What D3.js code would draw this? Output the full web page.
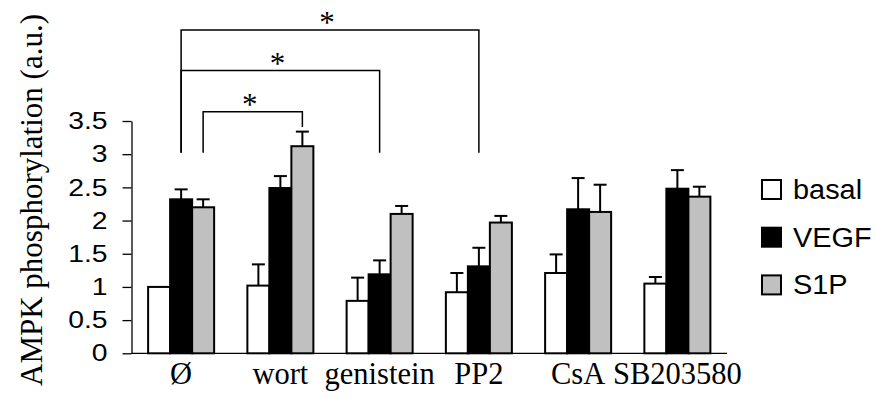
<!DOCTYPE html>
<html>
<head>
<meta charset="utf-8">
<script src="https://cdn.jsdelivr.net/npm/d3@7"></script>
<style>
  html, body { margin: 0; padding: 0; background: #fff; }
  svg { display: block; }
</style>
</head>
<body>
<svg id="chart" width="876" height="399"></svg>
<script>
// Treatments along the x axis
const categories = ["Ø", "wort", "genistein", "PP2", "CsA", "SB203580"];
const seriesNames = ["basal", "VEGF", "S1P"];

// Mean AMPK phosphorylation (a.u.) and upper error (SEM) per treatment
const basal    = [1.00, 1.02, 0.79, 0.92, 1.21, 1.05];
const basalErr = [0.00, 0.32, 0.35, 0.29, 0.28, 0.10];
const vegf     = [2.32, 2.49, 1.19, 1.31, 2.17, 2.48];
const vegfErr  = [0.15, 0.18, 0.21, 0.28, 0.47, 0.28];
const s1p      = [2.20, 3.12, 2.10, 1.97, 2.13, 2.36];
const s1pErr   = [0.12, 0.22, 0.12, 0.10, 0.41, 0.15];

const yTicks = [0, 0.5, 1, 1.5, 2, 2.5, 3, 3.5];

// Significance brackets: [from category, from series, to category, to series, bar level, left foot, right foot]
const brackets = [
  ["Ø", "VEGF", "PP2", "VEGF", 4.87, 3.02, 3.02],
  ["Ø", "VEGF", "genistein", "VEGF", 4.26, 3.02, 3.02],
  ["Ø", "S1P", "wort", "S1P", 3.64, 3.02, 3.41]
];

const fills = { basal: "#ffffff", VEGF: "#000000", S1P: "#c0c0c0" };
const values = { basal: basal, VEGF: vegf, S1P: s1p };
const errors = { basal: basalErr, VEGF: vegfErr, S1P: s1pErr };

const svg = d3.select("#chart");

const x0 = d3.scaleBand()
  .domain(categories)
  .range([131.5, 727])
  .paddingInner(0.335)
  .paddingOuter(0.1675);

const x1 = d3.scaleBand()
  .domain(seriesNames)
  .range([0, x0.bandwidth()])
  .padding(0);

const y = d3.scaleLinear().domain([0, 3.5]).range([353.3, 121]);

const serif = "'Liberation Serif', 'Times New Roman', serif";
const sans = "'Liberation Sans', Arial, sans-serif";
// sans labels are set slightly wide
const tickStretch = 1.18;
const legendStretch = 1.07;

// Y axis
const yAxis = d3.axisLeft(y)
  .tickValues(yTicks)
  .tickFormat(d3.format("~g"))
  .tickSize(9)
  .tickSizeOuter(0)
  .tickPadding(15);

const gy = svg.append("g")
  .attr("transform", "translate(131.5,0)")
  .call(yAxis);
gy.select(".domain").attr("stroke", "#000").attr("stroke-width", 1.3);
gy.selectAll(".tick line").attr("stroke", "#000").attr("stroke-width", 1.3);
gy.selectAll(".tick text")
  .attr("fill", "#000")
  .style("font-family", sans)
  .style("font-size", "24px")
  .each(function () {
    const t = d3.select(this);
    const tx = +t.attr("x");
    t.attr("x", 0).attr("transform", `translate(${tx},0) scale(${tickStretch},1)`);
  });

// X axis baseline and category labels
svg.append("line")
  .attr("x1", x0.range()[0]).attr("x2", x0.range()[1])
  .attr("y1", y(0)).attr("y2", y(0))
  .attr("stroke", "#000").attr("stroke-width", 1.3);

svg.append("g").selectAll("text")
  .data(categories)
  .join("text")
  .attr("x", d => x0(d) + x0.bandwidth() / 2)
  .attr("y", 384)
  .attr("text-anchor", "middle")
  .style("font-family", serif)
  .style("font-size", "30.5px")
  .text(d => d);

// Y axis title
svg.append("text")
  .attr("transform", "translate(42,200) rotate(-90)")
  .attr("text-anchor", "middle")
  .style("font-family", serif)
  .style("font-size", "31px")
  .text("AMPK phosphorylation (a.u.)");

// Bars
const rows = [];
categories.forEach((c, i) => {
  seriesNames.forEach(s => {
    rows.push({ cat: c, series: s, value: values[s][i], err: errors[s][i] });
  });
});

const gBars = svg.append("g");
gBars.selectAll("rect")
  .data(rows)
  .join("rect")
  .attr("x", d => x0(d.cat) + x1(d.series))
  .attr("y", d => y(d.value))
  .attr("width", x1.bandwidth())
  .attr("height", d => y(0) - y(d.value))
  .attr("fill", d => fills[d.series])
  .attr("stroke", "#000")
  .attr("stroke-width", 2);

// Upper error bars
const withErr = rows.filter(d => d.err > 0);
const gErr = svg.append("g").attr("stroke", "#000").attr("stroke-width", 2);
gErr.selectAll("line.stem")
  .data(withErr)
  .join("line")
  .attr("class", "stem")
  .attr("x1", d => x0(d.cat) + x1(d.series) + x1.bandwidth() / 2)
  .attr("x2", d => x0(d.cat) + x1(d.series) + x1.bandwidth() / 2)
  .attr("y1", d => y(d.value))
  .attr("y2", d => y(d.value + d.err));
gErr.selectAll("line.cap")
  .data(withErr)
  .join("line")
  .attr("class", "cap")
  .attr("x1", d => x0(d.cat) + x1(d.series) + x1.bandwidth() / 2 - 6.5)
  .attr("x2", d => x0(d.cat) + x1(d.series) + x1.bandwidth() / 2 + 6.5)
  .attr("y1", d => y(d.value + d.err))
  .attr("y2", d => y(d.value + d.err));

// Significance brackets with asterisks
const cx = (c, s) => x0(c) + x1(s) + x1.bandwidth() / 2;
const gBr = svg.append("g");
brackets.forEach(b => {
  const xa = cx(b[0], b[1]);
  const xb = cx(b[2], b[3]);
  const path = d3.path();
  path.moveTo(xa, y(b[5]));
  path.lineTo(xa, y(b[4]));
  path.lineTo(xb, y(b[4]));
  path.lineTo(xb, y(b[6]));
  gBr.append("path")
    .attr("d", path.toString())
    .attr("fill", "none")
    .attr("stroke", "#000")
    .attr("stroke-width", 1.5);
  gBr.append("text")
    .attr("x", (xa + xb) / 2 - 3)
    .attr("y", y(b[4]) + 3)
    .attr("text-anchor", "middle")
    .style("font-family", serif)
    .style("font-size", "31px")
    .text("*");
});

// Legend
const legend = svg.append("g");
seriesNames.forEach((s, i) => {
  const top = 180 + i * 47.7;
  legend.append("rect")
    .attr("x", 762).attr("y", top)
    .attr("width", 19).attr("height", 19)
    .attr("fill", fills[s])
    .attr("stroke", "#000")
    .attr("stroke-width", 2);
  legend.append("text")
    .attr("x", 0).attr("y", 0)
    .attr("transform", `translate(793,${top + 19}) scale(${legendStretch},1)`)
    .style("font-family", sans)
    .style("font-size", "27px")
    .text(s);
});
</script>
</body>
</html>
